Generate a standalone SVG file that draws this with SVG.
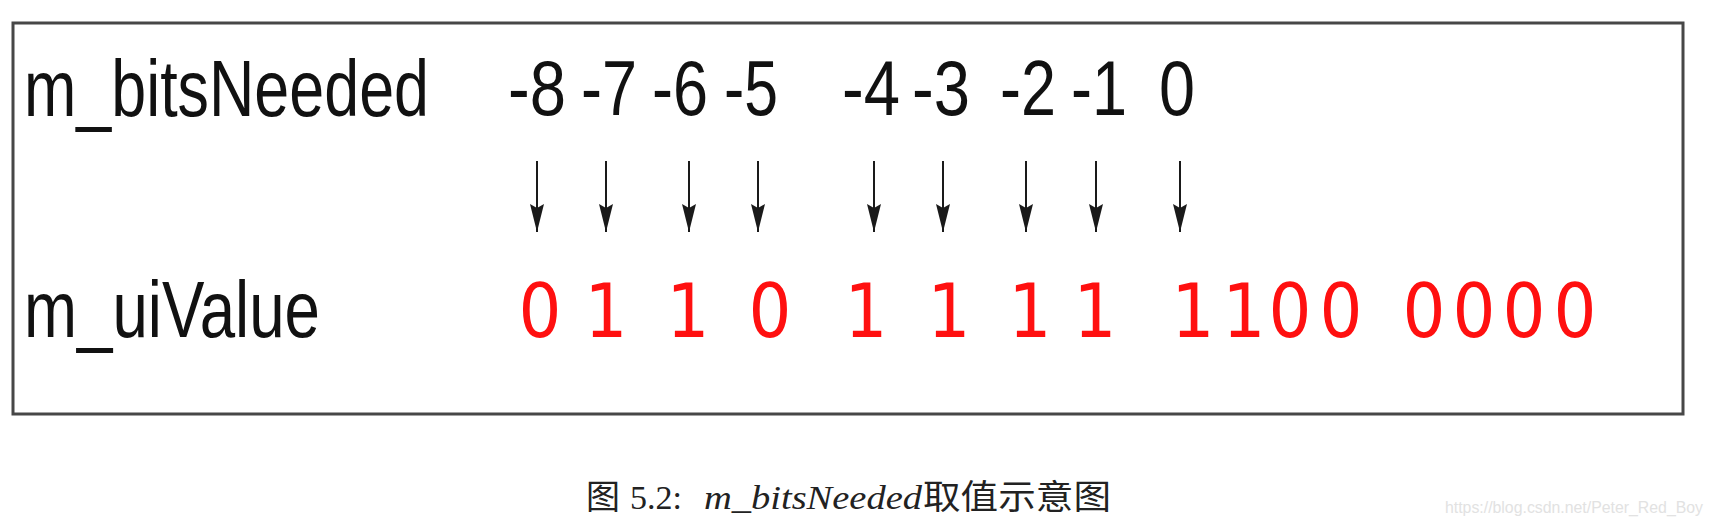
<svg xmlns="http://www.w3.org/2000/svg" width="1713" height="524" viewBox="0 0 1713 524">
<style>
.lbl{font-family:"Liberation Sans",sans-serif;font-size:62.5px;fill:#111}
.num{font-family:"Liberation Sans Narrow","Liberation Sans",sans-serif;font-size:78px;fill:#111}
.bit{font-family:"DejaVu Sans Condensed","DejaVu Sans",sans-serif;font-size:75px;fill:#ff1010;text-anchor:middle}
.arr{stroke:#1a1a1a;stroke-width:2;fill:none;marker-end:url(#ah)}
.cap{font-family:"Liberation Serif","Noto Sans CJK SC",serif;font-size:34px;fill:#222}
.wm{font-family:"Liberation Sans",sans-serif;font-size:16px;fill:#e2e2e2}
</style>
<defs>
<marker id="ah" markerUnits="userSpaceOnUse" markerWidth="28" markerHeight="14" viewBox="0 0 28 14" refX="28" refY="7" orient="auto">
<path d="M0,0 L28,7 L0,14 L4,7 z" fill="#1a1a1a"/>
</marker>
</defs>
<rect x="0" y="0" width="1713" height="524" fill="#fff"/>
<rect id="frame" x="13" y="23" width="1670" height="391" fill="none" stroke="#474747" stroke-width="3"/>
<g id="label-bitsNeeded" transform="translate(24,116) scale(1,1.28)"><text class="lbl" x="0" y="0" textLength="405" lengthAdjust="spacingAndGlyphs">m_bitsNeeded</text></g>
<g id="label-uiValue" transform="translate(24,337) scale(1,1.28)"><text class="lbl" x="0" y="0" textLength="296" lengthAdjust="spacingAndGlyphs">m_uiValue</text></g>
<g id="n-8"><text class="num" x="508" y="115" textLength="58" lengthAdjust="spacingAndGlyphs">-8</text></g>
<g id="n-7"><text class="num" x="581" y="115" textLength="56" lengthAdjust="spacingAndGlyphs">-7</text></g>
<g id="n-6"><text class="num" x="652" y="115" textLength="56" lengthAdjust="spacingAndGlyphs">-6</text></g>
<g id="n-5"><text class="num" x="724" y="115" textLength="54" lengthAdjust="spacingAndGlyphs">-5</text></g>
<g id="n-4"><text class="num" x="842" y="115" textLength="58" lengthAdjust="spacingAndGlyphs">-4</text></g>
<g id="n-3"><text class="num" x="912" y="115" textLength="58" lengthAdjust="spacingAndGlyphs">-3</text></g>
<g id="n-2"><text class="num" x="1000" y="115" textLength="56" lengthAdjust="spacingAndGlyphs">-2</text></g>
<g id="n-1"><text class="num" x="1071" y="115" textLength="56" lengthAdjust="spacingAndGlyphs">-1</text></g>
<g id="n0"><text class="num" x="1159" y="115" textLength="36" lengthAdjust="spacingAndGlyphs">0</text></g>
<g id="connectors">
<line class="arr" x1="537" y1="161" x2="537" y2="232"/>
<line class="arr" x1="606" y1="161" x2="606" y2="232"/>
<line class="arr" x1="689" y1="161" x2="689" y2="232"/>
<line class="arr" x1="758" y1="161" x2="758" y2="232"/>
<line class="arr" x1="874" y1="161" x2="874" y2="232"/>
<line class="arr" x1="943" y1="161" x2="943" y2="232"/>
<line class="arr" x1="1026" y1="161" x2="1026" y2="232"/>
<line class="arr" x1="1096" y1="161" x2="1096" y2="232"/>
<line class="arr" x1="1180" y1="161" x2="1180" y2="232"/>
</g>
<g id="values">
<text class="bit" x="540 606 688 770 866 949 1030 1095" y="337">01101111</text>
<text class="bit" x="1193 1244 1290 1341" y="337">1100</text>
<text class="bit" x="1424 1474 1524 1575" y="337">0000</text>
</g>
<g id="caption">
<text class="cap" y="509"><tspan x="586">图</tspan><tspan x="630">5.2:</tspan><tspan x="704" font-style="italic" textLength="218" lengthAdjust="spacingAndGlyphs">m_bitsNeeded</tspan><tspan x="923" textLength="188" lengthAdjust="spacingAndGlyphs">取值示意图</tspan></text>
</g>
<g id="watermark"><text class="wm" x="1445" y="513" textLength="258" lengthAdjust="spacingAndGlyphs">https://blog.csdn.net/Peter_Red_Boy</text></g>
</svg>
